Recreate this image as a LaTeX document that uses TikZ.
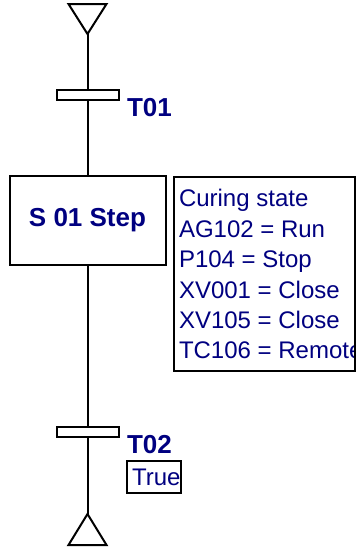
\documentclass[tikz,border=0pt]{standalone}
\usepackage{fontspec}
\setmainfont{Liberation Sans}
\usetikzlibrary{positioning}
\definecolor{navytext}{RGB}{0,0,128}

\begin{document}
\begin{tikzpicture}[x=0.5pt, y=-0.5pt, line width=1pt,
  transbar/.style={draw, fill=white, minimum width=31pt, minimum height=5pt, inner sep=0pt},
  translabel/.style={text=navytext, font=\fontsize{13}{15}\selectfont\bfseries, inner sep=0pt, anchor=base west},
  actiontext/.style={text=navytext, font=\fontsize{12}{15.2}\selectfont, inner sep=0pt, align=left, anchor=north west}]
  \useasboundingbox (0,0) rectangle (357,552);
  % initial and final triangles
  \draw (68.5,4) -- (106.5,4) -- (87.5,34) -- cycle;
  \coordinate (begin) at (87.5,34);
  \draw (87.5,514) -- (106.5,545) -- (68.5,545) -- cycle;
  \coordinate (end) at (87.5,514);
  % transitions and step
  \node[transbar] (t01) at (87.5,94.5) {};
  \node[translabel] (t01label) at (126,116) {T01};
  \node[draw, minimum width=78pt, minimum height=44.5pt, inner sep=0pt, text=navytext, font=\fontsize{13}{15}\selectfont\bfseries] (s01) at (87.5,220.5) {S 01 Step};
  \node[draw, anchor=north west, minimum width=90.5pt, minimum height=97pt, inner sep=0pt,
    path picture={\node[actiontext] (s01actions) at ([xshift=2pt, yshift=0.3pt]path picture bounding box.north west)
      {Curing state\\AG102 = Run\\P104 = Stop\\XV001 = Close\\XV105 = Close\\TC106 = Remote};}] (s01box) at (173,176) {};
  \node[transbar] (t02) at (87.5,432) {};
  \node[translabel] (t02label) at (126,453) {T02};
  \node[draw, anchor=north west, text width=26.5pt, align=right, minimum height=16pt, inner sep=0.25pt, text=navytext, font=\fontsize{12}{14}\selectfont] (t02cond) at (126,460) {True};
  % links
  \draw (begin) -- (t01.north);
  \draw (t01.south) -- (s01.north);
  \draw (s01.south) -- (t02.north);
  \draw (t02.south) -- (end);
\end{tikzpicture}
\end{document}
